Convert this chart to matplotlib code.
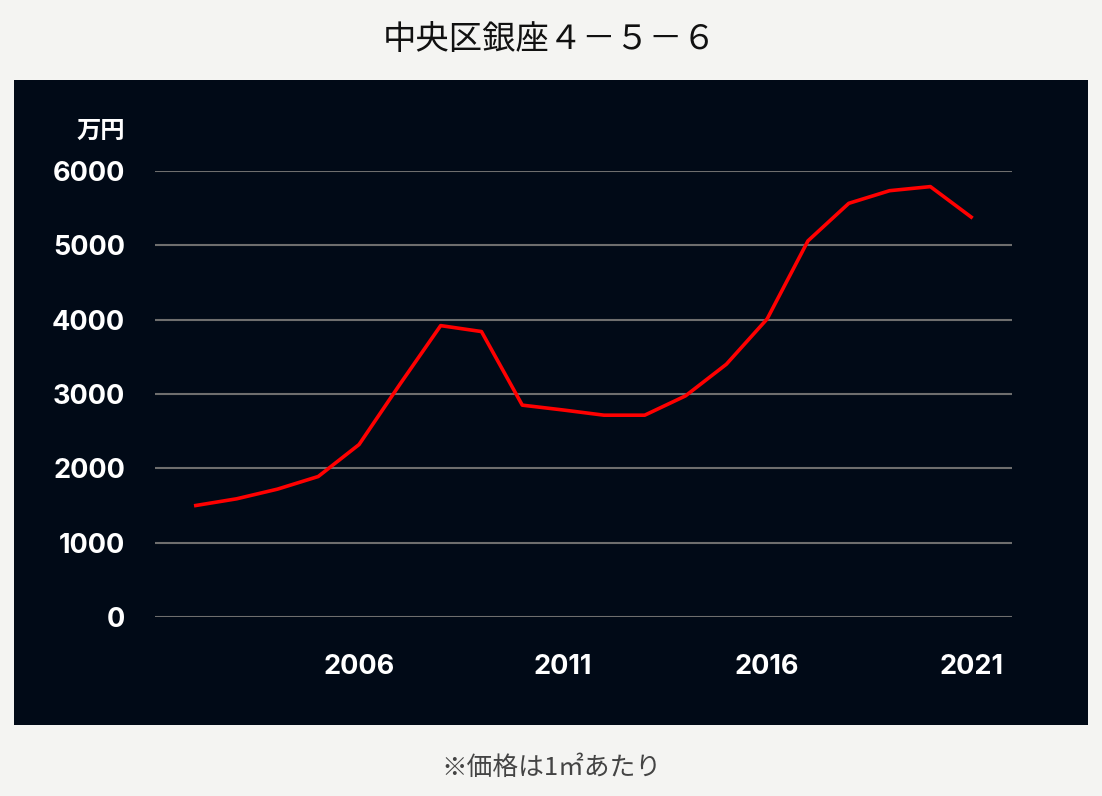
import matplotlib.pyplot as plt
from matplotlib.patches import Rectangle

# data (万円 per ㎡)
years = list(range(2002, 2022))
prices = [1500, 1590, 1720, 1890, 2320, 3130, 3920, 3840, 2850, 2785,
          2715, 2715, 2975, 3400, 4010, 5060, 5565, 5735, 5790, 5380]
xticks = [2006, 2011, 2016, 2021]
yticks = [0, 1000, 2000, 3000, 4000, 5000, 6000]

title = "中央区銀座４－５－６"
unit = "万円"
note = "※価格は1㎡あたり"

cjk = ['Noto Sans CJK JP', 'DejaVu Sans']
num = ['Inter', 'DejaVu Sans']
panel = '#010a17'

fig = plt.figure(figsize=(11.02, 7.96), dpi=100)
fig.patch.set_facecolor('#f4f4f2')

# dark panel behind the plot
fig.patches.append(Rectangle((14/1102, 1-725/796), (1088-14)/1102, (725-80)/796,
                             transform=fig.transFigure, facecolor=panel,
                             edgecolor='none', zorder=-1))

ax = fig.add_axes([155/1102, 1-617/796, (1012-155)/1102, (617-171)/796])
ax.set_zorder(1)
ax.patch.set_alpha(0)

ax.plot(years, prices, color='#ff0000', lw=2.6, clip_on=False, zorder=3)

ax.set_xlim(2001, 2022)
ax.set_ylim(0, 6000)
ax.set_yticks(yticks)
ax.set_xticks(xticks)
ax.grid(axis='y', color='#6e6e6e', lw=1.5)
ax.set_axisbelow(True)
for s in ax.spines.values():
    s.set_visible(False)
ax.tick_params(length=0, colors='white')
ax.tick_params(axis='y', pad=21.5)
ax.tick_params(axis='x', pad=27)
for lb in ax.get_yticklabels() + ax.get_xticklabels():
    lb.set_fontfamily(num)
    lb.set_fontweight('bold')
    lb.set_fontsize(19.5)

fig.text(125/1102, 1-131/796, unit, ha='right', va='center', color='white',
         fontsize=17.5, fontweight='bold', family=cjk)
fig.text(550/1102, 1-40/796, title, ha='center', va='center', color='#111111',
         fontsize=24, family=cjk)
fig.text(551/1102, 1-768/796, note, ha='center', va='center', color='#444444',
         fontsize=18.5, family=cjk)

plt.savefig("out.png", dpi=100, facecolor=fig.get_facecolor())
